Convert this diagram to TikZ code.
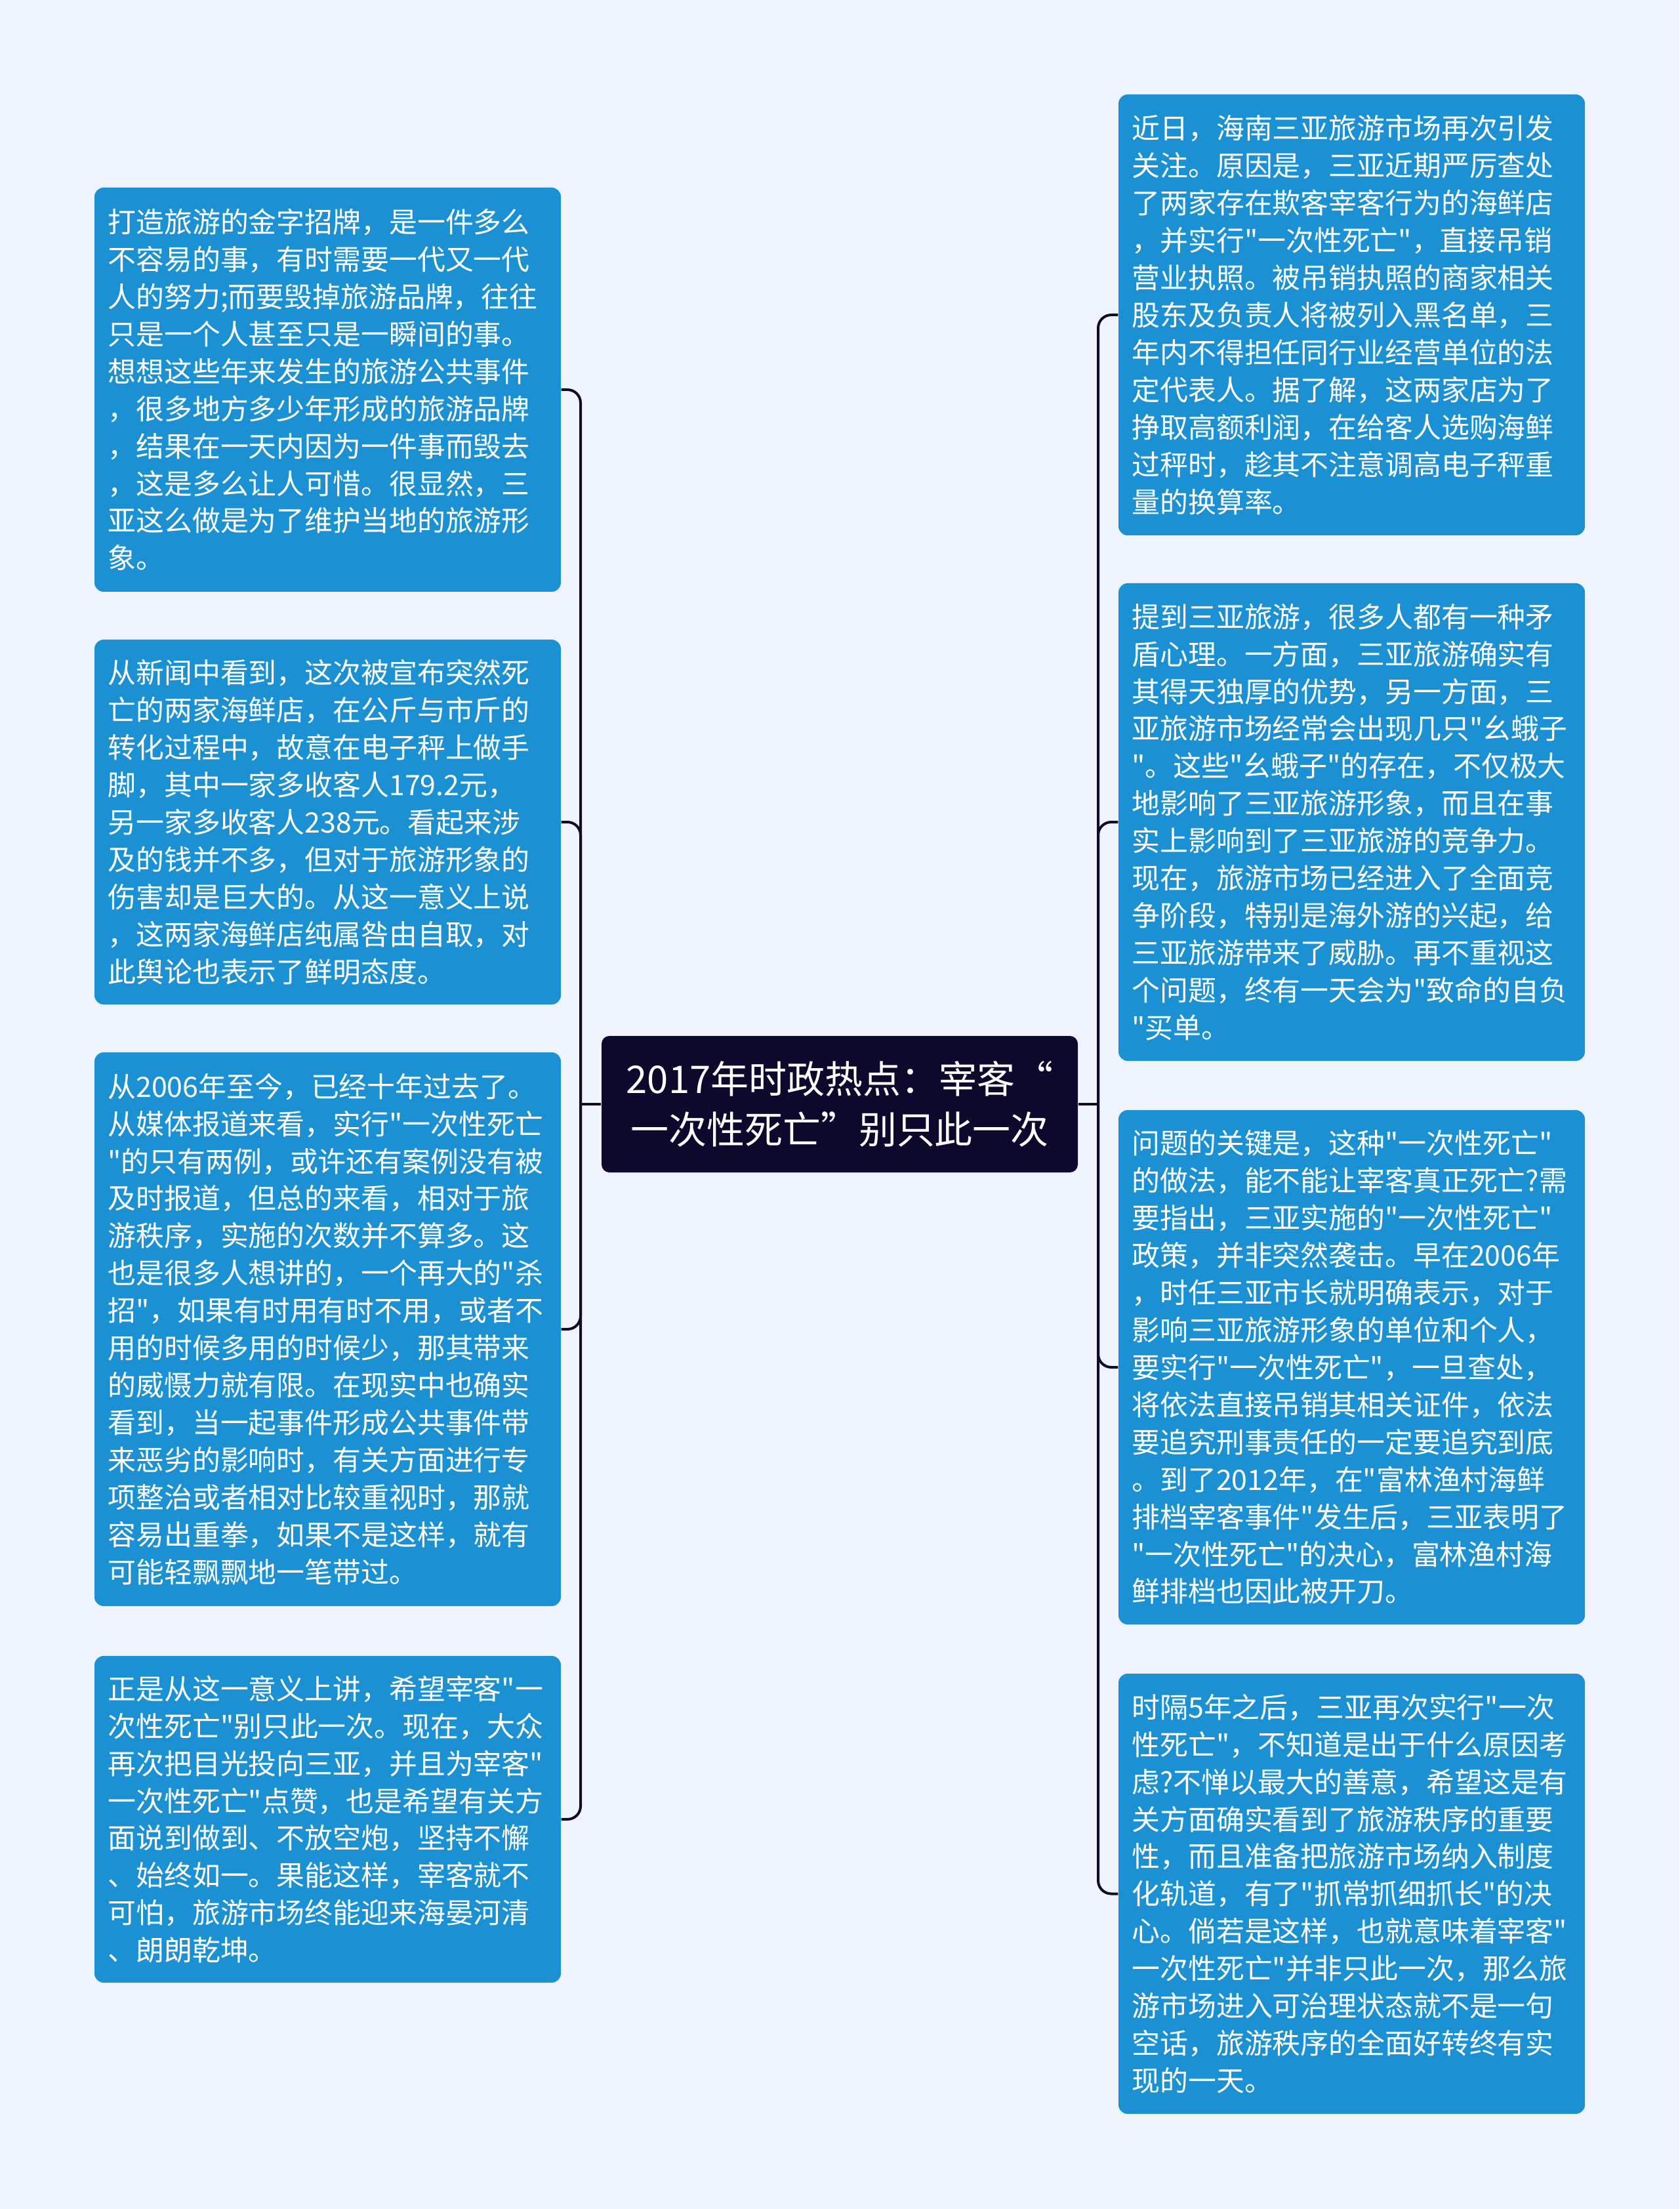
\documentclass[tikz,border=0pt]{standalone}
\usepackage{fontspec}
\setmainfont{Noto Sans CJK SC}[Ligatures=TeXOff]
\usetikzlibrary{calc}
\definecolor{bgcol}{RGB}{238,243,254}
\definecolor{boxblue}{RGB}{27,145,211}
\definecolor{midnavy}{RGB}{12,9,45}
\definecolor{linknavy}{RGB}{14,12,40}

\begin{document}
\begin{tikzpicture}[
txtbox/.style={rectangle, fill=boxblue, rounded corners=0.14cm, text=white, align=left,
 text width=6.7cm, inner xsep=0.205cm, inner ysep=0pt,
 font=\fontsize{12.2pt}{16.2pt}\selectfont},
topic/.style={rectangle, fill=midnavy, rounded corners=0.12cm, text=white, align=center,
 minimum width=7.26cm, minimum height=2.08cm, inner sep=0pt,
 font=\fontsize{16.5pt}{21.9pt}\selectfont},
link/.style={line width=0.04cm, draw=linknavy, rounded corners=0.2cm}]
\fill[bgcol] (0,0) rectangle (25.6,-33.67);
\useasboundingbox (0,0) rectangle (25.6,-33.67);

\node[topic] (mid) at (12.80,-16.83) {2017年时政热点：宰客“\\一次性死亡”别只此一次};

% left side
\node[txtbox, minimum height=6.16cm] (l1) at (4.995,-5.94) {打造旅游的金字招牌，是一件多么\\不容易的事，有时需要一代又一代\\人的努力;而要毁掉旅游品牌，往往\\只是一个人甚至只是一瞬间的事。\\想想这些年来发生的旅游公共事件\\，很多地方多少年形成的旅游品牌\\，结果在一天内因为一件事而毁去\\，这是多么让人可惜。很显然，三\\亚这么做是为了维护当地的旅游形\\象。};
\node[txtbox, minimum height=5.56cm] (l2) at (4.995,-12.53) {从新闻中看到，这次被宣布突然死\\亡的两家海鲜店，在公斤与市斤的\\转化过程中，故意在电子秤上做手\\脚，其中一家多收客人179.2元，\\另一家多收客人238元。看起来涉\\及的钱并不多，但对于旅游形象的\\伤害却是巨大的。从这一意义上说\\，这两家海鲜店纯属咎由自取，对\\此舆论也表示了鲜明态度。};
\node[txtbox, minimum height=8.44cm] (l3) at (4.995,-20.26) {从2006年至今，已经十年过去了。\\从媒体报道来看，实行"一次性死亡\\"的只有两例，或许还有案例没有被\\及时报道，但总的来看，相对于旅\\游秩序，实施的次数并不算多。这\\也是很多人想讲的，一个再大的"杀\\招"，如果有时用有时不用，或者不\\用的时候多用的时候少，那其带来\\的威慑力就有限。在现实中也确实\\看到，当一起事件形成公共事件带\\来恶劣的影响时，有关方面进行专\\项整治或者相对比较重视时，那就\\容易出重拳，如果不是这样，就有\\可能轻飘飘地一笔带过。};
\node[txtbox, minimum height=4.98cm] (l4) at (4.995,-27.73) {正是从这一意义上讲，希望宰客"一\\次性死亡"别只此一次。现在，大众\\再次把目光投向三亚，并且为宰客"\\一次性死亡"点赞，也是希望有关方\\面说到做到、不放空炮，坚持不懈\\、始终如一。果能这样，宰客就不\\可怕，旅游市场终能迎来海晏河清\\、朗朗乾坤。};

% right side
\node[txtbox, minimum height=6.72cm] (r1) at (20.605,-4.80) {近日，海南三亚旅游市场再次引发\\关注。原因是，三亚近期严厉查处\\了两家存在欺客宰客行为的海鲜店\\，并实行"一次性死亡"，直接吊销\\营业执照。被吊销执照的商家相关\\股东及负责人将被列入黑名单，三\\年内不得担任同行业经营单位的法\\定代表人。据了解，这两家店为了\\挣取高额利润，在给客人选购海鲜\\过秤时，趁其不注意调高电子秤重\\量的换算率。};
\node[txtbox, minimum height=7.28cm] (r2) at (20.605,-12.53) {提到三亚旅游，很多人都有一种矛\\盾心理。一方面，三亚旅游确实有\\其得天独厚的优势，另一方面，三\\亚旅游市场经常会出现几只"幺蛾子\\"。这些"幺蛾子"的存在，不仅极大\\地影响了三亚旅游形象，而且在事\\实上影响到了三亚旅游的竞争力。\\现在，旅游市场已经进入了全面竞\\争阶段，特别是海外游的兴起，给\\三亚旅游带来了威胁。再不重视这\\个问题，终有一天会为"致命的自负\\"买单。};
\node[txtbox, minimum height=7.84cm] (r3) at (20.605,-20.84) {问题的关键是，这种"一次性死亡"\\的做法，能不能让宰客真正死亡?需\\要指出，三亚实施的"一次性死亡"\\政策，并非突然袭击。早在2006年\\，时任三亚市长就明确表示，对于\\影响三亚旅游形象的单位和个人，\\要实行"一次性死亡"，一旦查处，\\将依法直接吊销其相关证件，依法\\要追究刑事责任的一定要追究到底\\。到了2012年，在"富林渔村海鲜\\排档宰客事件"发生后，三亚表明了\\"一次性死亡"的决心，富林渔村海\\鲜排档也因此被开刀。};
\node[txtbox, minimum height=6.71cm] (r4) at (20.605,-28.865) {时隔5年之后，三亚再次实行"一次\\性死亡"，不知道是出于什么原因考\\虑?不惮以最大的善意，希望这是有\\关方面确实看到了旅游秩序的重要\\性，而且准备把旅游市场纳入制度\\化轨道，有了"抓常抓细抓长"的决\\心。倘若是这样，也就意味着宰客"\\一次性死亡"并非只此一次，那么旅\\游市场进入可治理状态就不是一句\\空话，旅游秩序的全面好转终有实\\现的一天。};

\coordinate (lbus) at (8.85,-16.83);
\coordinate (rbus) at (16.74,-16.83);

\begin{scope}[link]
 \draw (mid.west) -- (lbus);
 \draw (mid.east) -- (rbus);
 \foreach \n in {l1,l2,l3,l4} \draw (lbus) |- (\n.east);
 \foreach \n in {r1,r2,r3,r4} \draw (rbus) |- (\n.west);
\end{scope}
\end{tikzpicture}
\end{document}
